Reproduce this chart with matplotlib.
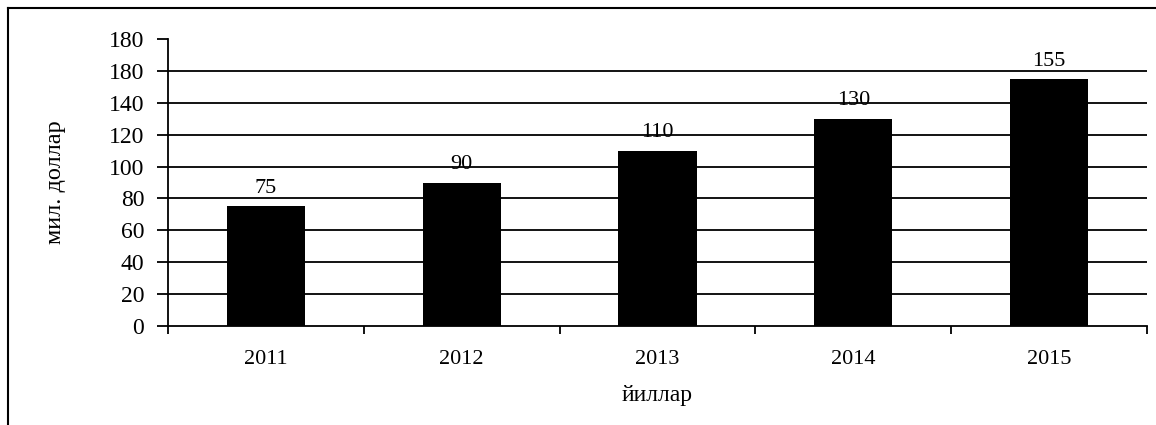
import matplotlib
matplotlib.use("Agg")
import matplotlib.pyplot as plt
from matplotlib.lines import Line2D

years = ["2011", "2012", "2013", "2014", "2015"]
values = [75, 90, 110, 130, 155]
ytick_values = [0, 20, 40, 60, 80, 100, 120, 140, 160, 180]
ytick_labels = ["0", "20", "40", "60", "80", "100", "120", "140", "180", "180"]
ylabel = "мил. доллар"
xlabel = "йиллар"

plt.rcParams["font.family"] = ["Liberation Serif", "DejaVu Serif"]

fig = plt.figure(figsize=(11.56, 4.25), dpi=100)
ax = fig.add_axes([0.1453, 0.233, 0.9922 - 0.1453, 0.675])

x = list(range(len(years)))
ax.set_ylim(0, 180)
ax.set_xlim(-0.5, len(years) - 0.5)

# gridlines (not at top value)
for v in ytick_values[1:-1]:
    ax.axhline(v, color="black", lw=1.3, zorder=1)

ax.bar(x, values, width=0.4, color="black", zorder=2)
for xi, v in zip(x, values):
    ax.annotate(str(v), (xi, v), xytext=(0, 6), textcoords="offset points",
                ha="center", va="bottom", fontsize=16)

ax.set_yticks(ytick_values)
ax.set_yticklabels(ytick_labels, fontsize=17)
ax.set_xticks(x)
ax.set_xticklabels(years, fontsize=16)
ax.tick_params(axis="x", which="major", length=0, pad=17)
ax.set_xticks([i - 0.5 for i in range(len(years) + 1)], minor=True)
ax.tick_params(axis="x", which="minor", length=6, width=1.3, direction="out")
ax.tick_params(axis="y", length=8, width=1.3, direction="out", pad=9)

for s in ["top", "right"]:
    ax.spines[s].set_visible(False)
for s in ["left", "bottom"]:
    ax.spines[s].set_linewidth(1.3)

ax.set_ylabel(ylabel, fontsize=17.5, labelpad=31)
ax.set_xlabel(xlabel, fontsize=17, labelpad=12)

# outer frame (left and top edges)
fig.add_artist(Line2D([8 / 1156, 8 / 1156], [0, 1 - 8 / 425], color="black", lw=1.5,
                      transform=fig.transFigure))
fig.add_artist(Line2D([8 / 1156, 1], [1 - 8 / 425, 1 - 8 / 425], color="black", lw=1.5,
                      transform=fig.transFigure))

fig.savefig("out.png", dpi=100)
